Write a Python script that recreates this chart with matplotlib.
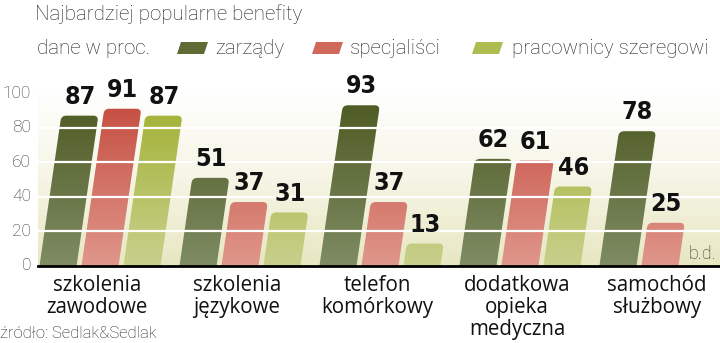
import numpy as np
import matplotlib
matplotlib.use("Agg")
import matplotlib.pyplot as plt
from matplotlib import font_manager
from matplotlib.path import Path
from matplotlib.patches import PathPatch, Polygon
from matplotlib.colors import LinearSegmentedColormap

# data
categories = ["szkolenia\nzawodowe", "szkolenia\njęzykowe", "telefon\nkomórkowy",
              "dodatkowa\nopieka\nmedyczna", "samochód\nsłużbowy"]
series_names = ["zarządy", "specjaliści", "pracownicy szeregowi"]
zarzady = [87, 51, 93, 62, 78]
specjalisci = [91, 37, 37, 61, 25]
szeregowi = [87, 31, 13, 46, None]   # b.d. for the last one
yticks = [0, 20, 40, 60, 80, 100]

series = [zarzady, specjalisci, szeregowi]
# (bottom colour, top colour)
colors = [("#7f8c64", "#4c5820"), ("#e0978b", "#c4493d"), ("#c8d08c", "#a0b030")]
legend_cols = ["#5f6b35", "#d0695c", "#aebd50"]

# bold condensed font for the values, if there is one
label_prop = font_manager.FontProperties(family="Roboto", weight="bold", size=17)
for f in font_manager.fontManager.ttflist:
    if ("Narrow" in f.name or "Condensed" in f.name or f.stretch == "condensed") \
            and f.weight in (700, "bold"):
        label_prop = font_manager.FontProperties(fname=f.fname, size=18)
        break

W, H = 720, 343
fig = plt.figure(figsize=(W / 100, H / 100), dpi=100)

def fx(px):
    return px / W

def fy(py):
    return 1 - py / H

ax_left, ax_right, ax_top, ax_bot = 38, 720, 88, 266
ax = fig.add_axes([fx(ax_left), fy(ax_bot), fx(ax_right - ax_left), (ax_bot - ax_top) / H])
ymax = 103
xmin, xmax = -0.443, 4.429
ax.set_xlim(xmin, xmax)
ax.set_ylim(0, ymax)

px_x = (ax_right - ax_left) / (xmax - xmin)
px_y = (ax_bot - ax_top) / ymax

# background gradient
bg = LinearSegmentedColormap.from_list("bg", ["#e8e7c2", "#f6f5e6", "#ffffff"])
grad = np.linspace(0, 1, 256).reshape(-1, 1)
ax.imshow(grad, cmap=bg, origin="lower", aspect="auto",
          extent=(xmin, xmax, 0, ymax), zorder=0)

step, width = 0.3, 0.265
slant = 0.145 * px_y / px_x   # horizontal shift per unit of height
rx, ry = 5 / px_x, 5 / px_y

def bar_path(x0, v):
    dx = slant * v
    t = (v - ry) / v
    verts = [(x0, 0), (x0 + width, 0),
             (x0 + width + dx * t, v - ry), (x0 + width + dx, v), (x0 + width + dx - rx, v),
             (x0 + dx + rx, v), (x0 + dx, v), (x0 + dx * t, v - ry),
             (x0, 0)]
    codes = [Path.MOVETO, Path.LINETO, Path.LINETO, Path.CURVE3, Path.CURVE3,
             Path.LINETO, Path.CURVE3, Path.CURVE3, Path.CLOSEPOLY]
    return Path(verts, codes)

for s, vals in enumerate(series):
    cmap = LinearSegmentedColormap.from_list("c%d" % s, list(colors[s]))
    for i, v in enumerate(vals):
        if v is None:
            continue
        xc = i + (s - 1) * step
        x0 = xc - width / 2
        patch = PathPatch(bar_path(x0, v), facecolor="none", edgecolor="none", zorder=2)
        ax.add_patch(patch)
        g = np.linspace(0, v / 100, 200).reshape(-1, 1)
        im = ax.imshow(g, cmap=cmap, vmin=0, vmax=1, origin="lower", aspect="auto",
                       extent=(x0, x0 + width + slant * v, 0, v), zorder=2)
        im.set_clip_path(patch)
        ax.text(xc + slant * v, v + 4, str(v), ha="center", va="bottom", zorder=6,
                fontproperties=label_prop, color="#111111")

ax.text(4 + step, 1.5, "b.d.", ha="center", va="bottom", fontsize=13,
        family="Roboto", weight="light", color="#333333", zorder=6)

for y in yticks[1:-1]:
    ax.axhline(y, color="white", lw=1.6, zorder=3)

ax.set_xlim(xmin, xmax)
ax.set_ylim(0, ymax)
for sp in ["top", "right", "left"]:
    ax.spines[sp].set_visible(False)
ax.spines["bottom"].set_linewidth(2)
ax.spines["bottom"].set_zorder(4)
ax.set_xticks([])
ax.set_yticks([])

# y tick labels
for y in yticks:
    fig.text(fx(31), fy(ax_bot - y * px_y), str(y), ha="right", va="center",
             fontsize=12.5, family="Roboto", weight="light", color="#333333")

# category labels
for i, c in enumerate(categories):
    xpix = ax_left + (i - xmin) * px_x - 3
    fig.text(fx(xpix), fy(275), c, ha="center", va="top", fontsize=14.8,
             family="Open Sans", color="#111111", linespacing=1.05)

# title, legend, source
fig.text(fx(35), fy(14), "Najbardziej popularne benefity", ha="left", va="center",
         fontsize=14.8, family="Roboto", weight="light", color="#222222")
fig.text(fx(37), fy(49), "dane w proc.", ha="left", va="center",
         fontsize=14.8, family="Roboto", weight="light", color="#222222")

legend_pos = [(177, 215), (312, 350), (472, 512)]
for (px0, tx), col, name in zip(legend_pos, legend_cols, series_names):
    pts = [(px0, 54), (px0 + 27, 54), (px0 + 31, 42), (px0 + 4, 42)]
    fig.add_artist(Polygon([(fx(a), fy(b)) for a, b in pts], closed=True,
                           transform=fig.transFigure, facecolor=col, edgecolor="none",
                           joinstyle="round"))
    fig.text(fx(tx), fy(49), name, ha="left", va="center",
             fontsize=14.8, family="Roboto", weight="light", color="#222222")

fig.text(fx(0), fy(333), "źródło: Sedlak&Sedlak", ha="left", va="center",
         fontsize=12, family="Roboto", weight="light", color="#222222")

fig.savefig("out.png", dpi=100)
